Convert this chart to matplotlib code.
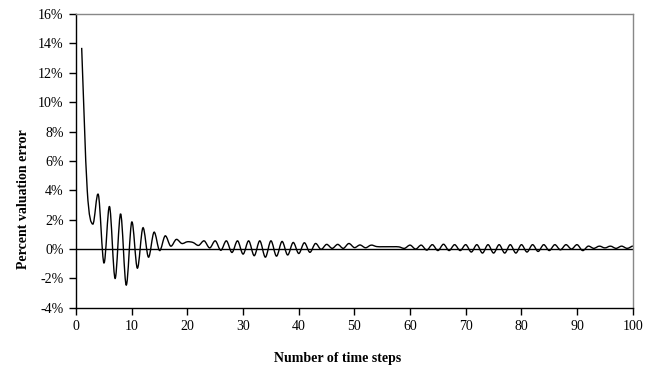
import numpy as np
import matplotlib
matplotlib.use('Agg')
import matplotlib.pyplot as plt
from matplotlib.path import Path
from matplotlib.patches import PathPatch
from matplotlib.ticker import FuncFormatter

# time steps and percent valuation error
steps = list(range(1, 101))
error = [13.7, 4.0, 1.7, 3.7, -0.95, 2.9, -2.0, 2.4, -2.45, 1.85,
         -1.3, 1.45, -0.55, 1.15, -0.1, 0.9, 0.2, 0.66, 0.38, 0.5,
         0.45, 0.25, 0.56, 0.08, 0.56, -0.08, 0.56, -0.23, 0.56, -0.34,
         0.56, -0.45, 0.56, -0.55, 0.56, -0.48, 0.52, -0.4, 0.45, -0.3,
         0.43, -0.22, 0.38, -0.02, 0.32, 0.05, 0.32, 0.05, 0.38, 0.1,
         0.28, 0.09, 0.27, 0.17, 0.16, 0.16, 0.16, 0.15, 0.05, 0.27,
         0.0, 0.27, -0.07, 0.3, -0.1, 0.33, -0.1, 0.3, -0.1, 0.3,
         -0.2, 0.3, -0.27, 0.3, -0.27, 0.3, -0.27, 0.3, -0.27, 0.3,
         -0.2, 0.3, -0.16, 0.3, -0.1, 0.3, -0.05, 0.3, 0.0, 0.3,
         -0.1, 0.2, 0.05, 0.2, 0.08, 0.2, 0.05, 0.2, 0.05, 0.22]

yticks = list(range(-4, 17, 2))
xticks = list(range(0, 101, 10))


def smooth_path(x, y):  # excel style smoothed line (catmull-rom bezier)
	x = np.asarray(x, float)
	y = np.asarray(y, float)
	verts = [(x[0], y[0])]
	codes = [Path.MOVETO]
	n = len(x)
	for i in range(n - 1):
		p0 = (x[max(i - 1, 0)], y[max(i - 1, 0)])
		p1 = (x[i], y[i])
		p2 = (x[i + 1], y[i + 1])
		p3 = (x[min(i + 2, n - 1)], y[min(i + 2, n - 1)])
		c1 = (p1[0] + (p2[0] - p0[0]) / 6, p1[1] + (p2[1] - p0[1]) / 6)
		c2 = (p2[0] - (p3[0] - p1[0]) / 6, p2[1] - (p3[1] - p1[1]) / 6)
		verts += [c1, c2, p2]
		codes += [Path.CURVE4] * 3
	return Path(verts, codes)


plt.rcParams['font.family'] = ['Liberation Serif', 'DejaVu Serif']

fig = plt.figure(figsize=(6.45, 3.7), dpi=100)
ax = fig.add_axes([0.118, 0.168, 0.863, 0.794])

ax.axhline(0, color='black', lw=1.0, zorder=2)
ax.add_patch(PathPatch(smooth_path(steps, error), facecolor='none',
                       edgecolor='black', lw=1.0, zorder=3))

ax.set_xlim(0, 100)
ax.set_ylim(-4, 16)
ax.set_xticks(xticks)
ax.set_yticks(yticks)
ax.yaxis.set_major_formatter(FuncFormatter(lambda v, p: '%d%%' % v))

for s in ['top', 'right']:
	ax.spines[s].set_color('#888888')
	ax.spines[s].set_linewidth(1.0)
for s in ['left', 'bottom']:
	ax.spines[s].set_color('black')
	ax.spines[s].set_linewidth(1.0)

ax.tick_params(direction='out', length=5, width=1, labelsize=10, pad=4)

ax.set_xlabel('Number of time steps', fontsize=10, fontweight='bold')
ax.set_ylabel('Percent valuation error', fontsize=10, fontweight='bold')
ax.yaxis.set_label_coords(-0.083, 0.37)
ax.xaxis.set_label_coords(0.469, -0.15)

fig.savefig('out.png', dpi=100)
